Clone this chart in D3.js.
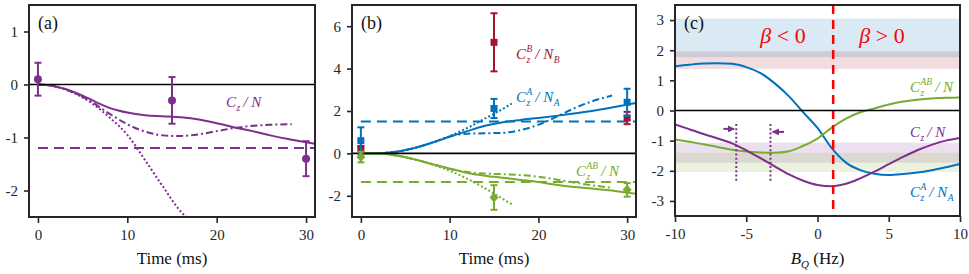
<!DOCTYPE html>
<html>
<head>
<meta charset="utf-8">
<script src="https://cdn.jsdelivr.net/npm/d3@7"></script>
<style>
  body { margin: 0; background: #fff; }
</style>
</head>
<body>
<div id="chart"></div>
<script>
// Set up chart
var svgWidth = 969;
var svgHeight = 274;
var serif = "Liberation Serif";
var purple = "#7e2f8e", blue = "#0072bd", green = "#77ac30", darkRed = "#a2142f", red = "#ff0000";

// ---- data ----
var timeTicks = [0, 10, 20, 30];
var ticksA = [-2, -1, 0, 1];
var ticksB = [-2, 0, 2, 4, 6];
var ticksC = [-3, -2, -1, 0, 1, 2, 3];
var bqTicks = [-10, -5, 0, 5, 10];

// measured points (t = 0, 15, 30 ms)
var sampleTime = [0, 15, 30];
var czN = [0.1, -0.3, -1.4];
var czNErr = [0.31, 0.44, 0.33];
var czA = [0.6, 2.12, 2.41];
var czAErr = [0.63, 0.45, 0.64];
var czB = [0.2, 5.24, 1.67];
var czBErr = [0.15, 1.37, 0.29];
var czAB = [-0.17, -2.08, -1.72];
var czABErr = [0.25, 0.58, 0.32];

// panel (a) theory curves
var fitTime = [0, 1, 2, 3, 4, 5, 6, 7, 8, 9, 10, 12, 14, 16, 18, 20, 22, 24, 26, 28, 30, 31];
var fitN = [0, -0.01, -0.04, -0.08, -0.14, -0.21, -0.29, -0.37, -0.44, -0.49, -0.53, -0.58, -0.6, -0.62, -0.66, -0.73, -0.81, -0.88, -0.96, -1.03, -1.09, -1.12];
var dashDotTimeN = [0, 2, 4, 6, 8, 10, 12, 14, 15, 16, 18, 20, 22, 24, 26, 28.4];
var dashDotN = [0, -0.04, -0.15, -0.33, -0.55, -0.75, -0.89, -0.96, -0.97, -0.97, -0.94, -0.88, -0.82, -0.78, -0.76, -0.75];
var dotTimeN = [0, 2, 4, 6, 8, 10, 12, 14, 16, 16.6];
var dotN = [0, -0.04, -0.16, -0.35, -0.62, -0.95, -1.43, -1.93, -2.4, -2.5];
var levelN = -1.2;

// panel (b) theory curves
var fitTimeB = [0, 2, 4, 6, 8, 10, 12, 14, 16, 18, 20, 22, 24, 26, 28, 30, 31];
var fitA = [0, 0.01, 0.08, 0.25, 0.5, 0.78, 1.05, 1.3, 1.47, 1.58, 1.67, 1.77, 1.88, 2.0, 2.14, 2.3, 2.38];
var fitAB = [0, -0.01, -0.1, -0.28, -0.5, -0.72, -0.92, -1.05, -1.15, -1.25, -1.35, -1.48, -1.58, -1.65, -1.74, -1.85, -1.9];
var dotTimeB = [0, 2, 4, 6, 8, 10, 12, 14, 16, 17];
var dotA = [0, 0.01, 0.08, 0.25, 0.5, 0.82, 1.2, 1.65, 2.1, 2.35];
var dotAB = [0, -0.01, -0.1, -0.28, -0.52, -0.82, -1.2, -1.65, -2.15, -2.4];
var dashDotTimeB = [0, 2, 4, 6, 8, 10, 12, 14, 16, 18, 20, 22, 24, 26, 28.3];
var dashDotA = [0, 0.01, 0.08, 0.25, 0.5, 0.8, 0.93, 0.95, 0.97, 1.1, 1.35, 1.72, 2.12, 2.45, 2.73];
var dashDotAB = [0, -0.01, -0.1, -0.28, -0.5, -0.72, -0.88, -0.95, -0.98, -1.02, -1.1, -1.23, -1.37, -1.5, -1.62];
var levelA = 1.5;
var levelAB = -1.35;

// panel (c) vs B_Q
var bq = [-10, -9, -8, -7, -6, -5, -4, -3, -2, -1, 0, 1, 2, 3, 4, 5, 6, 7, 8, 9, 10];
var bqA = [1.47, 1.52, 1.56, 1.57, 1.55, 1.44, 1.24, 0.9, 0.47, -0.06, -0.58, -1.25, -1.73, -1.98, -2.1, -2.14, -2.11, -2.06, -1.98, -1.88, -1.77];
var bqAB = [-0.96, -1.04, -1.12, -1.21, -1.3, -1.36, -1.39, -1.4, -1.35, -1.17, -0.93, -0.57, -0.27, -0.06, 0.07, 0.2, 0.3, 0.36, 0.4, 0.42, 0.43];
var bqN = [-0.46, -0.62, -0.78, -0.93, -1.09, -1.32, -1.58, -1.85, -2.12, -2.33, -2.47, -2.51, -2.43, -2.25, -2.03, -1.78, -1.54, -1.32, -1.14, -1.0, -0.91];
var betaZero = 1.1;
var markersBq = [-5.7, -3.3];

var svg = d3.select("#chart").append("svg")
  .attr("width", svgWidth)
  .attr("height", svgHeight)
  .attr("font-family", serif);

var panels = {
  a: { left: 29, right: 315, top: 5, bottom: 217, x: [-1, 31], y: [-2.5, 1.5], xt: timeTicks, yt: ticksA },
  b: { left: 352, right: 636, top: 5, bottom: 217, x: [-1, 31], y: [-3, 7], xt: timeTicks, yt: ticksB },
  c: { left: 675, right: 960, top: 5, bottom: 216, x: [-10, 10], y: [-3.5, 3.5], xt: bqTicks, yt: ticksC }
};

function setupPanel(p, name) {
  p.xs = d3.scaleLinear().domain(p.x).range([p.left, p.right]);
  p.ys = d3.scaleLinear().domain(p.y).range([p.bottom, p.top]);
  p.g = svg.append("g");
  svg.append("clipPath").attr("id", "clip" + name)
    .append("rect").attr("x", p.left).attr("y", p.top)
    .attr("width", p.right - p.left).attr("height", p.bottom - p.top);
  p.plot = p.g.append("g").attr("clip-path", "url(#clip" + name + ")");
  return p;
}

function finishPanel(p, letter, xTitle) {
  // zero line
  p.g.append("line")
    .attr("x1", p.left).attr("x2", p.right)
    .attr("y1", p.ys(0)).attr("y2", p.ys(0))
    .attr("stroke", "#000").attr("stroke-width", 1.6);
  var xAxis = d3.axisBottom(p.xs).tickValues(p.xt).tickSize(6).tickPadding(6).tickFormat(d => String(d));
  var yAxis = d3.axisLeft(p.ys).tickValues(p.yt).tickSize(5).tickPadding(6).tickFormat(d => String(d));
  var gx = p.g.append("g").attr("transform", `translate(0, ${p.bottom})`).call(xAxis);
  var gy = p.g.append("g").attr("transform", `translate(${p.left}, 0)`).call(yAxis);
  [gx, gy].forEach(function(a) {
    a.attr("font-family", serif).attr("font-size", 15);
    a.select(".domain").remove();
    a.selectAll("line").attr("stroke", "#262626").attr("stroke-width", 1.6);
    a.selectAll("text").attr("fill", "#262626").attr("font-family", serif);
  });
  p.g.append("rect")
    .attr("x", p.left).attr("y", p.top)
    .attr("width", p.right - p.left).attr("height", p.bottom - p.top)
    .attr("fill", "none").attr("stroke", "#262626").attr("stroke-width", 2);
  p.g.append("text")
    .attr("x", p.left + 9).attr("y", p.top + 24)
    .attr("font-family", serif).attr("font-size", 18).attr("fill", "#111")
    .text("(" + letter + ")");
  var title = p.g.append("text")
    .attr("x", (p.left + p.right) / 2).attr("y", 264)
    .attr("text-anchor", "middle")
    .attr("font-family", serif).attr("font-size", 17).attr("fill", "#111");
  if (xTitle === "bq") {
    title.append("tspan").attr("font-style", "italic").text("B");
    title.append("tspan").attr("font-style", "italic").attr("font-size", 11).attr("dy", 4).text("Q");
    title.append("tspan").attr("dy", -4).text(" (Hz)");
  } else {
    title.text("Time (ms)");
  }
}

function drawCurve(p, xs, ys, color, dash) {
  var line = d3.line()
    .x((d, i) => p.xs(xs[i]))
    .y(d => p.ys(d))
    .curve(d3.curveMonotoneX);
  p.plot.append("path")
    .attr("d", line(ys))
    .attr("fill", "none")
    .attr("stroke", color)
    .attr("stroke-width", 2)
    .attr("stroke-dasharray", dash || null);
}

function drawLevel(p, value, x0, x1, color) {
  p.plot.append("line")
    .attr("x1", p.xs(x0)).attr("x2", p.xs(x1))
    .attr("y1", p.ys(value)).attr("y2", p.ys(value))
    .attr("stroke", color).attr("stroke-width", 2)
    .attr("stroke-dasharray", "10,6");
}

function drawPoints(p, ts, vals, errs, color, shape) {
  var g = p.g.append("g");
  ts.forEach(function(t, i) {
    var x = p.xs(t);
    var y0 = p.ys(vals[i] - errs[i]), y1 = p.ys(vals[i] + errs[i]);
    g.append("line").attr("x1", x).attr("x2", x).attr("y1", y0).attr("y2", y1)
      .attr("stroke", color).attr("stroke-width", 2);
    [y0, y1].forEach(function(yy) {
      g.append("line").attr("x1", x - 3.5).attr("x2", x + 3.5).attr("y1", yy).attr("y2", yy)
        .attr("stroke", color).attr("stroke-width", 2);
    });
    var y = p.ys(vals[i]);
    if (shape === "circle") {
      g.append("circle").attr("cx", x).attr("cy", y).attr("r", 4).attr("fill", color);
    } else if (shape === "square") {
      g.append("rect").attr("x", x - 3.5).attr("y", y - 3.5).attr("width", 7).attr("height", 7).attr("fill", color);
    } else {
      g.append("path").attr("d", `M${x},${y - 5}L${x + 4.5},${y}L${x},${y + 5}L${x - 4.5},${y}Z`).attr("fill", color);
    }
  });
}

// C_z^{sup} / N_{sub}, as one text element
var zWidth = null;
function corrLabel(g, x, y, color, sup, nSub) {
  if (zWidth === null) {
    var probe = svg.append("text").attr("font-size", 9.5).attr("font-style", "italic").text("z");
    zWidth = probe.node().getComputedTextLength();
    probe.remove();
  }
  var t = g.append("text").attr("x", x).attr("y", y).attr("fill", color)
    .attr("font-family", serif).attr("font-style", "italic").attr("font-size", 15);
  t.append("tspan").text("C");
  t.append("tspan").attr("font-size", 9.5).attr("dy", 4).attr("dx", 0.5).text("z");
  var down = -4;
  if (sup) {
    t.append("tspan").attr("font-size", 9.5).attr("dx", -zWidth).attr("dy", -11).text(sup);
    down = 7;
  }
  t.append("tspan").attr("dy", down).attr("dx", 3).text("/ N");
  if (nSub) t.append("tspan").attr("font-size", 9.5).attr("dy", 4).attr("dx", 0.5).text(nSub);
}

// ---- panel (a) ----
var pa = setupPanel(panels.a, "a");
drawLevel(pa, levelN, 0, 31, purple);
drawCurve(pa, dotTimeN, dotN, purple, "2,2.2");
drawCurve(pa, dashDotTimeN, dashDotN, purple, "7,3,2,3");
drawCurve(pa, fitTime, fitN, purple);
finishPanel(pa, "a");
drawPoints(pa, sampleTime, czN, czNErr, purple, "circle");
corrLabel(pa.g, 226, 107, purple, null, null);

// ---- panel (b) ----
var pb = setupPanel(panels.b, "b");
drawLevel(pb, levelA, 0, 31, blue);
drawLevel(pb, levelAB, 0, 31, green);
drawCurve(pb, dotTimeB, dotA, blue, "2,2.2");
drawCurve(pb, dashDotTimeB, dashDotA, blue, "7,3,2,3");
drawCurve(pb, fitTimeB, fitA, blue);
drawCurve(pb, dotTimeB, dotAB, green, "2,2.2");
drawCurve(pb, dashDotTimeB, dashDotAB, green, "7,3,2,3");
drawCurve(pb, fitTimeB, fitAB, green);
finishPanel(pb, "b");
drawPoints(pb, sampleTime, czB, czBErr, darkRed, "square");
drawPoints(pb, sampleTime, czA, czAErr, blue, "square");
drawPoints(pb, sampleTime, czAB, czABErr, green, "diamond");
corrLabel(pb.g, 516, 59, darkRed, "B", "B");
corrLabel(pb.g, 516, 102, blue, "A", "A");
corrLabel(pb.g, 576, 176, green, "AB", null);

// ---- panel (c) ----
var pc = setupPanel(panels.c, "c");
// bands from the 30 ms measurements
var bands = [
  { v: czA[2], e: czAErr[2], color: blue },
  { v: czB[2], e: czBErr[2], color: darkRed },
  { v: czN[2], e: czNErr[2], color: purple },
  { v: czAB[2], e: czABErr[2], color: green }
];
bands.forEach(function(b) {
  pc.plot.append("rect")
    .attr("x", pc.left).attr("width", pc.right - pc.left)
    .attr("y", pc.ys(b.v + b.e)).attr("height", pc.ys(b.v - b.e) - pc.ys(b.v + b.e))
    .attr("fill", b.color).attr("fill-opacity", 0.15);
});
drawCurve(pc, bq, bqA, blue);
drawCurve(pc, bq, bqAB, green);
drawCurve(pc, bq, bqN, purple);
markersBq.forEach(function(m) {
  pc.plot.append("line")
    .attr("x1", pc.xs(m)).attr("x2", pc.xs(m))
    .attr("y1", pc.ys(-0.45)).attr("y2", pc.ys(-2.4))
    .attr("stroke", purple).attr("stroke-width", 2).attr("stroke-dasharray", "2,2.2");
});
// arrows toward the dotted lines
svg.append("defs").append("marker")
  .attr("id", "arrowP").attr("viewBox", "0 0 10 10").attr("refX", 9).attr("refY", 5)
  .attr("markerWidth", 3.5).attr("markerHeight", 3.5).attr("orient", "auto")
  .append("path").attr("d", "M0,0L10,5L0,10Z").attr("fill", purple);
[[-6.6, -5.85, -0.61], [-2.35, -3.15, -0.71]].forEach(function(a) {
  pc.plot.append("line")
    .attr("x1", pc.xs(a[0])).attr("x2", pc.xs(a[1]))
    .attr("y1", pc.ys(a[2])).attr("y2", pc.ys(a[2]))
    .attr("stroke", purple).attr("stroke-width", 2).attr("marker-end", "url(#arrowP)");
});
pc.plot.append("line")
  .attr("x1", pc.xs(betaZero)).attr("x2", pc.xs(betaZero))
  .attr("y1", pc.top).attr("y2", pc.bottom)
  .attr("stroke", red).attr("stroke-width", 2.5).attr("stroke-dasharray", "9,6");
finishPanel(pc, "c", "bq");
[["<", 783], [">", 882]].forEach(function(b) {
  var t = pc.g.append("text").attr("x", b[1]).attr("y", 43).attr("text-anchor", "middle")
    .attr("font-family", serif).attr("fill", red).attr("font-size", 22);
  t.append("tspan").attr("font-style", "italic").text("β");
  t.append("tspan").text(" " + b[0] + " 0");
});
corrLabel(pc.g, 910, 92, green, "AB", null);
corrLabel(pc.g, 910, 137, purple, null, null);
corrLabel(pc.g, 910, 197, blue, "A", "A");
</script>
</body>
</html>
